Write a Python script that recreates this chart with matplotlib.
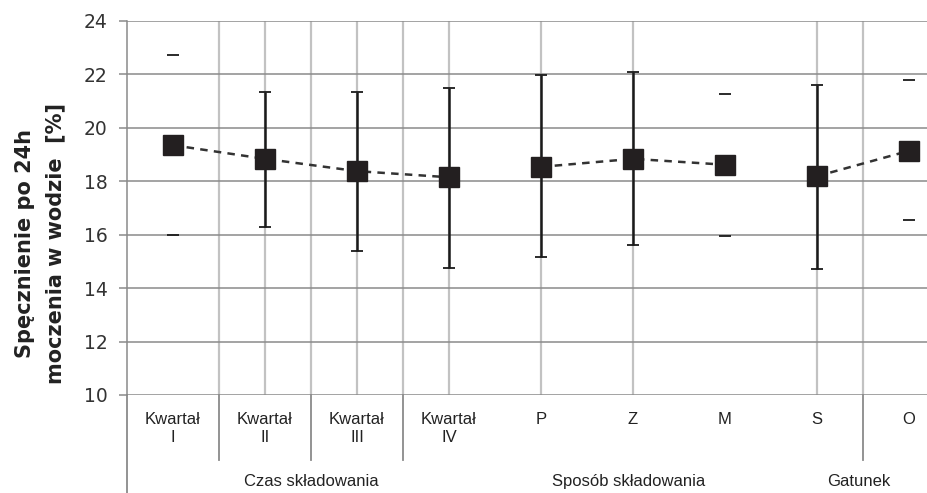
import numpy as np
import matplotlib.pyplot as plt
from matplotlib.transforms import blended_transform_factory

# ---------------------- dane ----------------------
categories = ["Kwartał\nI", "Kwartał\nII", "Kwartał\nIII", "Kwartał\nIV",
              "P", "Z", "M", "S", "O"]
means = [19.35, 18.84, 18.38, 18.15, 18.54, 18.84, 18.62, 18.19, 19.14]
upper = [22.71, 21.35, 21.35, 21.50, 21.98, 22.09, 21.28, 21.60, 21.80]
lower = [15.99, 16.29, 15.38, 14.75, 15.16, 15.61, 15.95, 14.72, 16.55]
groups = ["Czas składowania", "Sposób składowania", "Gatunek"]
group_label_x = [1.5, 4.95, 7.45]
# odcinki linii przerywanej (indeksy kategorii)
segments = [(0, 4), (4, 7), (7, 9)]
# w oryginale dla I, M, O widoczne są tylko końcówki słupków błędu
stem_visible = [False, True, True, True, True, True, False, True, False]

W, H = 927, 493
fig = plt.figure(figsize=(W / 100, H / 100), dpi=100)
ax = fig.add_axes([127 / W, 1 - 395 / H, 828 / W, 374 / H])

x = np.arange(len(categories))
means = np.array(means)
err = np.array([means - np.array(lower), np.array(upper) - means])

# ---------------------- siatka ----------------------
grid_grey = "#8a8a8a"
vline_grey = "#c2c2c2"
ax.set_ylim(10, 24)
ax.set_xlim(-0.5, len(categories) - 0.5)
ax.set_yticks(np.arange(10, 25, 2))
ax.yaxis.grid(True, color=grid_grey, lw=1.1)
ax.set_axisbelow(True)
for v in [0.5, 1, 1.5, 2, 2.5, 3, 4, 5, 7, 7.5]:
    ax.axvline(v, color=vline_grey, lw=1.6, zorder=0)

for s in ["top", "right", "bottom"]:
    ax.spines[s].set_visible(False)
ax.spines["left"].set_color(grid_grey)
ax.spines["left"].set_linewidth(1.1)
ax.tick_params(axis="y", length=6, width=1.1, color=grid_grey, pad=8,
               labelsize=13.5, labelcolor="#333333")
ax.set_xticks([])

# ---------------------- słupki błędu ----------------------
idx_v = [i for i in range(len(x)) if stem_visible[i]]
idx_h = [i for i in range(len(x)) if not stem_visible[i]]
ax.errorbar(x[idx_v], means[idx_v], yerr=err[:, idx_v], fmt="none",
            ecolor="#1a1a1a", elinewidth=1.8, capsize=4.6, capthick=1.3, zorder=3)
eb = ax.errorbar(x[idx_h], means[idx_h], yerr=err[:, idx_h], fmt="none",
                 ecolor="#1a1a1a", elinewidth=1.8, capsize=4.6, capthick=1.3, zorder=3)
for lc in eb[2]:
    lc.set_visible(False)

# ---------------------- linia przerywana i znaczniki ----------------------
for a, b in segments:
    ax.plot(x[a:b], means[a:b], ls=(0, (3, 2.5)), color="#333333", lw=1.8, zorder=4)
ax.plot(x, means, ls="none", marker="s", ms=14, color="#231f20", zorder=5)

# ---------------------- opisy osi X ----------------------
tr = blended_transform_factory(ax.transData, ax.transAxes)
cat_font = ["Liberation Sans", "DejaVu Sans"]
for xi, lab in zip(x, categories):
    ax.text(xi, -0.045, lab, transform=tr, ha="center", va="top", fontsize=12,
            family=cat_font, color="#222222", linespacing=1.25)
for gx, lab in zip(group_label_x, groups):
    ax.text(gx, -0.232, lab, transform=tr, ha="center", va="center", fontsize=12,
            family=cat_font, color="#222222")

# linie rozdzielające pod osią
for v in [0.5, 1.5, 2.5, 7.5]:
    ax.plot([v, v], [0, -0.175], transform=tr, color=grid_grey, lw=1.3, clip_on=False)
ax.plot([-0.5, -0.5], [0, -0.27], transform=tr, color=grid_grey, lw=1.3, clip_on=False)

# ---------------------- opis osi Y ----------------------
fig.text(40 / W, 1 - 243 / H, "Spęcznienie po 24h\nmoczenia w wodzie  [%]",
         rotation=90, ha="center", va="center", fontsize=15, fontweight="bold",
         color="#222222", linespacing=1.65)

fig.savefig("out.png", dpi=100)
